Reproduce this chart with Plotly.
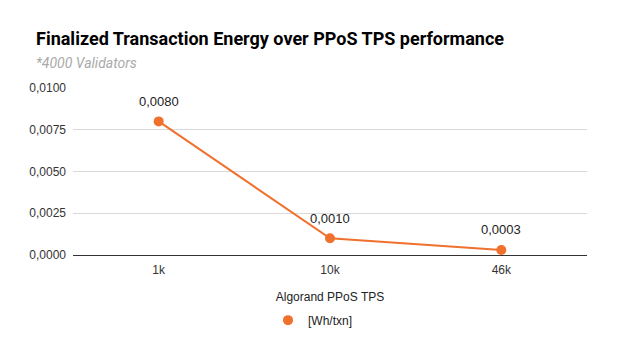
import plotly.graph_objects as go

categories = ["1k", "10k", "46k"]
values = [0.0080, 0.0010, 0.0003]
value_labels = ["0,0080", "0,0010", "0,0003"]
y_ticks = [0.0, 0.0025, 0.005, 0.0075, 0.01]

orange = "#f0702e"
lab_font = "Liberation Sans, Arial, sans-serif"

fig = go.Figure()
fig.add_trace(go.Scatter(
    x=categories, y=values, mode="lines",
    line=dict(color=orange, width=2), showlegend=False, hoverinfo="skip",
))
fig.add_trace(go.Scatter(
    x=categories, y=values, mode="markers",
    name="[Wh/txn]",
    marker=dict(color=orange, size=10),
))
for c, v, t in zip(categories, values, value_labels):
    fig.add_annotation(x=c, y=v, text=t, showarrow=False, yshift=20,
                       font=dict(family=lab_font, size=13, color="#222222"))

fig.add_annotation(xref="paper", yref="paper", x=-39/514, y=1+50/167, xanchor="left", yanchor="middle",
                   text="<b>Finalized Transaction Energy over PPoS TPS performance</b>", showarrow=False,
                   font=dict(family="Roboto, Arial, sans-serif", size=18, color="#000000"))
fig.add_annotation(xref="paper", yref="paper", x=-39/514, y=1+25/167, xanchor="left", yanchor="middle",
                   text="<i>*4000 Validators</i>", showarrow=False,
                   font=dict(family="Roboto, Arial, sans-serif", size=14, color="#aaaaaa"))

fig.update_layout(
    width=628, height=341,
    margin=dict(l=73, r=41, t=88, b=86, autoexpand=False),
    paper_bgcolor="white", plot_bgcolor="white",
    separators=",.",
    font=dict(family=lab_font, color="#222222"),
    showlegend=True,
    legend=dict(orientation="h", x=(268-73)/514, xanchor="left", y=-0.39, yanchor="middle",
                font=dict(size=12, color="#222222")),
    xaxis=dict(
        type="category", range=[-0.5, 2.5],
        showgrid=False, showline=False, ticks="",
        tickfont=dict(size=12, color="#333333"), ticklabelstandoff=6,
        title=dict(text="Algorand PPoS TPS", font=dict(size=12, color="#222222"), standoff=16),
    ),
    yaxis=dict(
        range=[0, 0.0100001], tickvals=y_ticks, tickformat=".4f",
        showgrid=True, gridcolor="#d9d9d9", gridwidth=1,
        zeroline=True, zerolinecolor="#333333", zerolinewidth=1,
        tickfont=dict(size=12, color="#333333"), ticks="", ticklabelstandoff=6,
    ),
)

fig.write_html("out.html")
